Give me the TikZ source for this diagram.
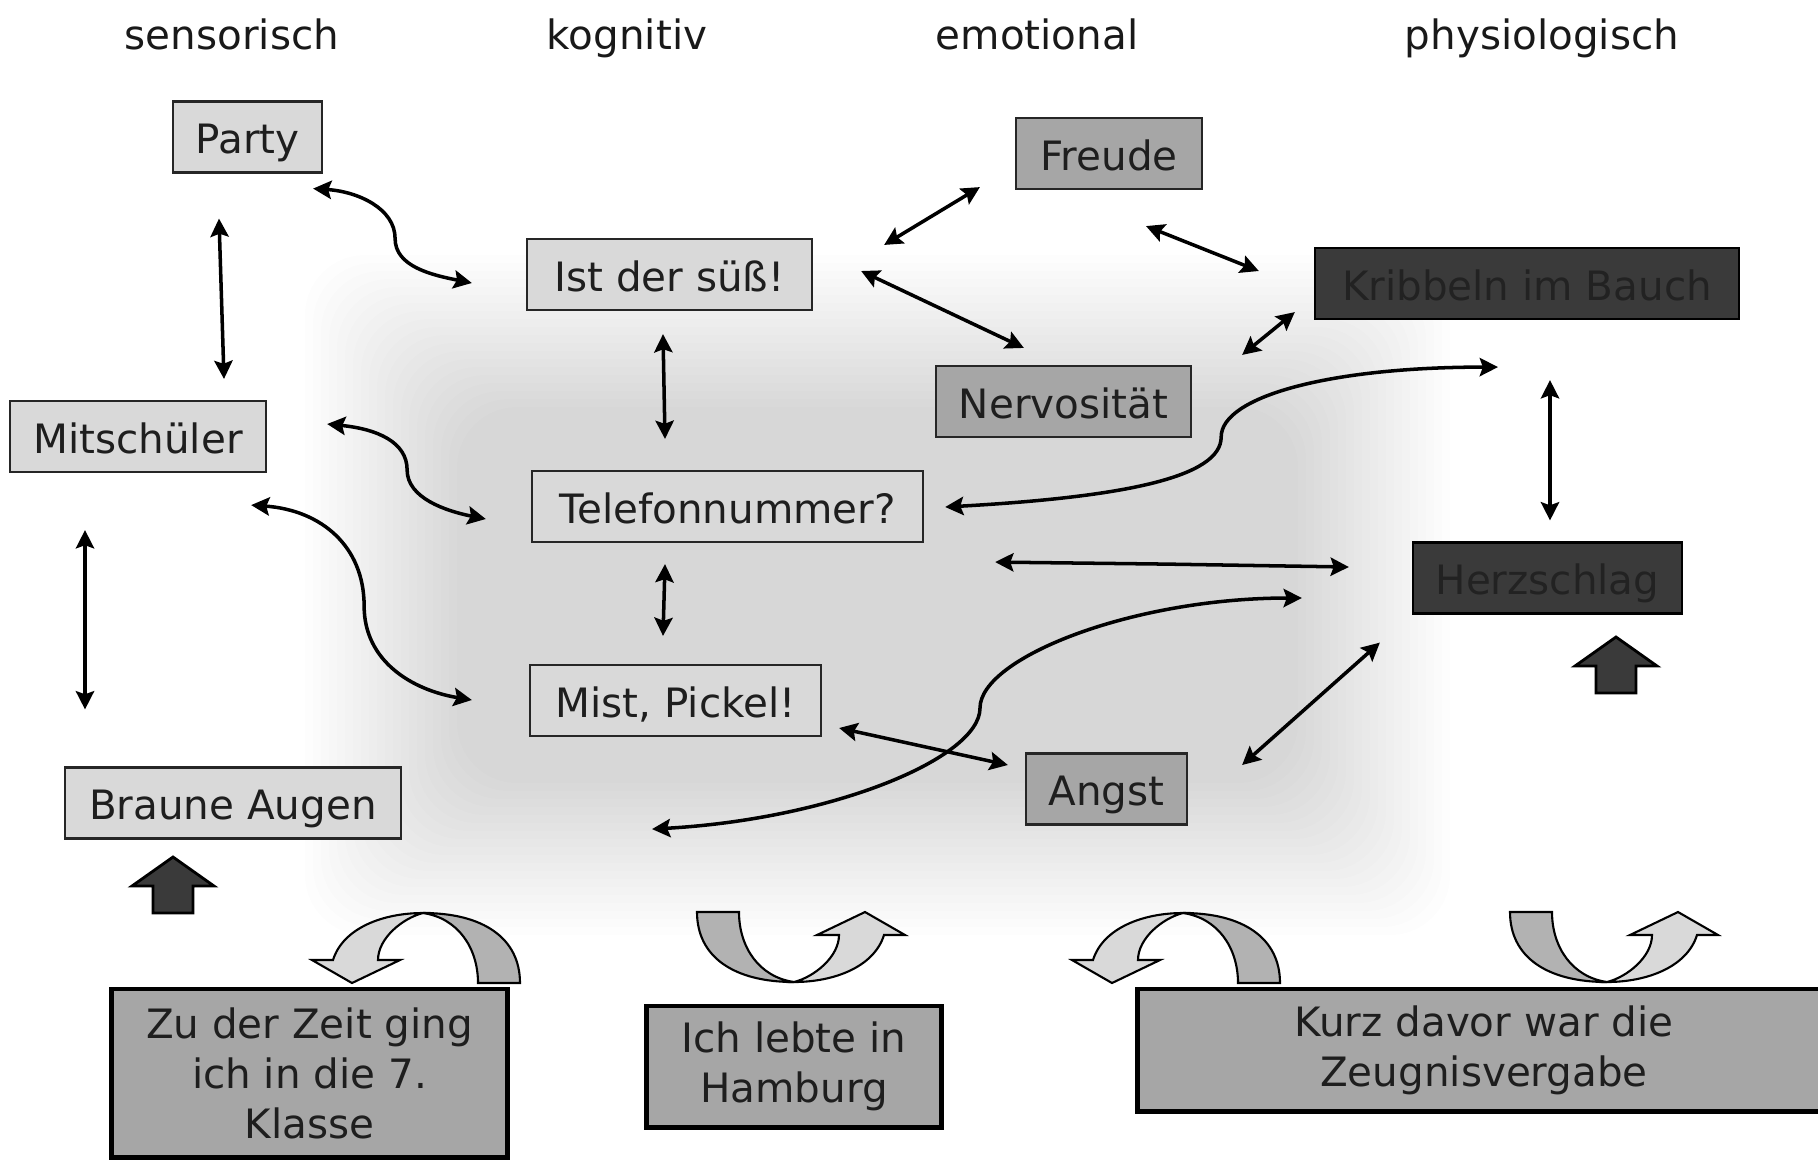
\documentclass[tikz,border=0pt]{standalone}
\usepackage{fontspec}
\setmainfont{DejaVu Sans}
\usetikzlibrary{arrows.meta}

\definecolor{boxlight}{HTML}{D9D9D9}
\definecolor{boxmid}{HTML}{A6A6A6}
\definecolor{boxdark}{HTML}{3A3A3A}
\definecolor{boxtext}{HTML}{1E1E1E}
\definecolor{darktext}{HTML}{222222}
\definecolor{ribbonback}{HTML}{B2B2B2}

\begin{document}
\begin{tikzpicture}[x=0.01cm, y=-0.01cm, font=\fontsize{11.5}{14.2}\selectfont]
    \tikzstyle{lbox} = [draw=black!85, line width=0.6pt, fill=boxlight, text=boxtext, minimum height=0.71cm, text height=9.6pt, text depth=0pt, inner sep=0pt]
    \tikzstyle{mbox} = [lbox, fill=boxmid]
    \tikzstyle{dbox} = [lbox, draw=black, fill=boxdark, text=darktext]
    \tikzstyle{sbox} = [draw=black, line width=1.4pt, fill=boxmid, text=boxtext, align=center, inner sep=0pt]
    \tikzstyle{head} = [anchor=base, text=black!90]
    \tikzstyle{conn} = [line width=1pt, >={Stealth[length=5.2pt,width=5.2pt,inset=0.9pt]}, <->]

    \useasboundingbox (0,0) rectangle (1818,1160);

    % soft grey background
    \foreach \i in {0,...,19}
        \fill[black, fill opacity=0.0085, rounded corners=0.6cm] ({305+8*\i},{255+8*\i}) rectangle ({1450-8*\i},{935-8*\i});

    % column titles
    \node[head] (hsens) at (232,49) {sensorisch};
    \node[head] (hkogn) at (627,49) {kognitiv};
    \node[head] (hemo) at (1037,49) {emotional};
    \node[head] (hphys) at (1542,49) {physiologisch};

    % sensorisch
    \node[lbox, minimum width=1.49cm] (party) at (247.5,137) {Party};
    \node[lbox, minimum width=2.56cm] (mit) at (138,436.5) {Mitschüler};
    \node[lbox, minimum width=3.36cm] (braune) at (233,803) {Braune Augen};

    % kognitiv
    \node[lbox, minimum width=2.85cm] (ist) at (669.5,274.5) {Ist der süß!};
    \node[lbox, minimum width=3.91cm] (tel) at (727.5,506.5) {Telefonnummer?};
    \node[lbox, minimum width=2.91cm] (mist) at (675.5,700.5) {Mist, Pickel!};

    % emotional
    \node[mbox, minimum width=1.86cm] (freude) at (1109,153.5) {Freude};
    \node[mbox, minimum width=2.55cm] (nerv) at (1063.5,401.5) {Nervosität};
    \node[mbox, minimum width=1.61cm] (angst) at (1106.5,789) {Angst};

    % physiologisch
    \node[dbox, minimum width=4.24cm] (krib) at (1527,283.5) {Kribbeln im Bauch};
    \node[dbox, minimum width=2.69cm] (herz) at (1547.5,578) {Herzschlag};

    % context
    \node[sbox, minimum width=3.95cm, minimum height=1.68cm] (zeit) at (309.5,1073) {Zu der Zeit ging\\ich in die 7.\\Klasse};
    \node[sbox, minimum width=2.94cm, minimum height=1.21cm] (hamburg) at (794,1066.5) {Ich lebte in\\Hamburg};
    \node[sbox, minimum width=6.92cm, minimum height=1.22cm] (zeugnis) at (1484,1050) {Kurz davor war die\\Zeugnisvergabe};

    % block arrows
    \foreach \ax/\ay in {173/857, 1616/637}
        \draw[fill=boxdark, line width=0.8pt, line join=miter] (\ax,\ay) -- ++(41,29) -- ++(-21,0) -- ++(0,27) -- ++(-40,0) -- ++(0,-27) -- ++(-21,0) -- cycle;

    % curved ribbons
    \foreach \rx/\ry/\rr in {423/913/0, 1183/913/0, 794/982/180, 1607/982/180} {
        \begin{scope}[shift={(\rx,\ry)}, rotate=\rr, line width=0.6pt, line join=miter]
            \draw[fill=ribbonback] (97,70) .. controls (97,25) and (60,0) .. (0,0) .. controls (35,5) and (55,35) .. (55,70) -- cycle;
            \draw[fill=boxlight] (0,0) .. controls (-40,0) and (-80,15) .. (-90,47) -- (-111,47) -- (-71,70) -- (-23,47) -- (-45,47) .. controls (-45,25) and (-20,5) .. (0,0) -- cycle;
        \end{scope}
    }

    % connections
    \draw[conn] ([shift={(-10,15)}]party.south east) .. controls +(45,3) and +(0,-30) .. ++(82,50) .. controls +(0,28) and +(-40,-8) .. ([shift={(-54,8.5)}]ist.west);
    \draw[conn] ([shift={(-28.5,45)}]party.south) -- ([shift={(86,-21)}]mit.north);
    \draw[conn] ([shift={(71,7)}]ist.north east) -- ([shift={(-35,-3)}]freude.south west);
    \draw[conn] ([shift={(48,-3.5)}]ist.east) -- ([shift={(89,-17)}]nerv.north west);
    \draw[conn] ([shift={(37,36)}]freude.south) -- ([shift={(-55,-12.5)}]krib.west);
    \draw[conn] ([shift={(50,-10)}]nerv.north east) -- ([shift={(-19,-8)}]krib.south west);
    \draw[conn] ([shift={(-6.5,23)}]ist.south) -- ([shift={(-62.5,-31)}]tel.north);
    \draw[conn] ([shift={(60,-12.5)}]mit.east) .. controls +(50,5) and +(0,-28) .. ++(80,46) .. controls +(0,28) and +(-40,-8) .. ([shift={(-45,12.5)}]tel.west);
    \draw[conn] ([shift={(-16,32)}]mit.south east) .. controls +(70,5) and +(0,-60) .. ++(113,101) .. controls +(0,55) and +(-60,-10) .. ([shift={(-57,-0.5)}]mist.west);
    \draw[conn] ([shift={(21,0.5)}]tel.east) .. controls +(180,-10) and +(0,40) .. ++(276,-70) .. controls +(0,-40) and +(-170,0) .. ([shift={(-29,47)}]krib.south);
    \draw[conn] ([shift={(71,19)}]tel.south east) -- ++(170,2) -- ([shift={(-63,-11)}]herz.west);
    \draw[conn] ([shift={(-62.5,21)}]tel.south) -- ([shift={(-12.5,-28)}]mist.north);
    \draw[conn] ([shift={(17,27.5)}]mist.east) -- ([shift={(-17,-24)}]angst.west);
    \draw[conn] ([shift={(-23.5,92)}]mist.south) .. controls +(180,-10) and +(0,50) .. ++(328,-121) .. controls +(0,-50) and +(-170,0) .. ([shift={(-110,20)}]herz.west);
    \draw[conn] ([shift={(54,-24)}]angst.east) -- ([shift={(-32,28)}]herz.south west);
    \draw[conn] ([shift={(23,60)}]krib.south) -- ([shift={(2.5,-21)}]herz.north);
    \draw[conn] ([shift={(-53,57)}]mit.south) -- ([shift={(-148,-57)}]braune.north);
\end{tikzpicture}
\end{document}
